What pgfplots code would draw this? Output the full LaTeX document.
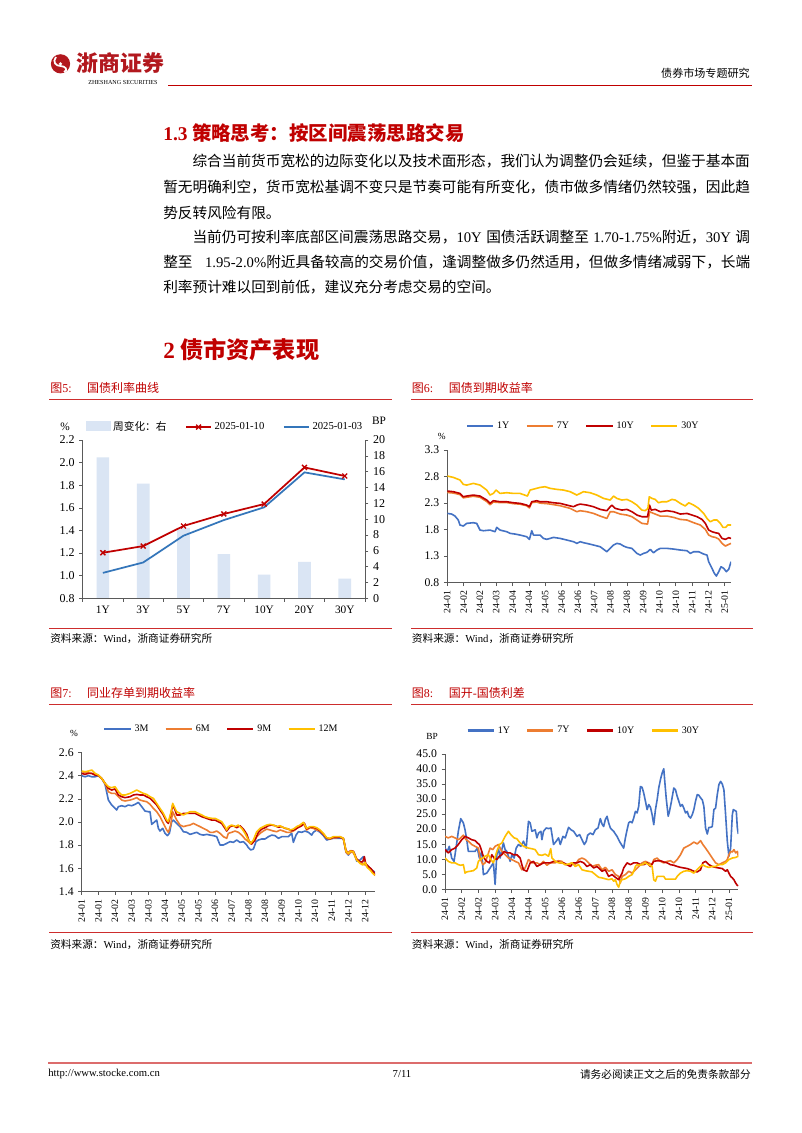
\documentclass[border=0pt]{standalone}
\usepackage{pgfplots}
\pgfplotsset{compat=1.18}
\usepackage{fontspec}
\setmainfont{Liberation Serif}
\newfontfamily\cjk{Noto Sans CJK SC}
\XeTeXlinebreaklocale "zh"
\XeTeXlinebreakskip=0pt plus 1pt
\definecolor{zsred}{RGB}{192,0,0}
\definecolor{rulered}{RGB}{205,45,45}
\definecolor{logored}{RGB}{178,24,30}
\definecolor{c1}{RGB}{68,114,196}
\definecolor{c2}{RGB}{237,125,49}
\definecolor{c3}{RGB}{192,0,0}
\definecolor{c4}{RGB}{255,192,0}
\definecolor{barblue}{RGB}{218,229,244}
\definecolor{lblue}{RGB}{52,118,186}
\definecolor{axgray}{RGB}{90,90,90}
\newcommand\bodyfont{\cjk\fontsize{11}{13}\selectfont}
\pgfplotsset{
  ts/.style={
    scale only axis, axis x line=bottom, axis y line=left,
    axis line style={-, axgray}, tick style={axgray, line width=0.5pt},
    tick align=outside, major tick length=2.5pt,
    /pgf/number format/assume math mode=true,
    tick label style={font=\fontsize{8.8}{9}\selectfont},
    xticklabel style={rotate=90, anchor=east, font=\fontsize{7.3}{8}\selectfont},
    yticklabel style={/pgf/number format/.cd, fixed, fixed zerofill, precision=1},
    legend style={draw=none, fill=none, font=\fontsize{7.5}{8}\selectfont, inner sep=0pt,
      legend columns=-1, /tikz/every even column/.append style={column sep=10pt}},
    legend image code/.code={\draw[#1, line width=2pt] (0cm,0cm) -- (0.69cm,0cm);},
    every axis plot/.append style={line width=1.2pt, mark=none, line join=round},
  }
}
\begin{document}
\begin{tikzpicture}
\fill[white] (0,0) rectangle (601.5pt,-849.75pt);
\path[use as bounding box] (0,0) rectangle (601.5pt,-849.75pt);
\begin{scope}[x=0.75pt,y=-0.75pt]
% header
\fill[logored] (60.5,63.8) circle (9.6);
\draw[white, line width=1.3pt] (56,57) .. controls (52,62) and (56,66) .. (60.5,66) .. controls (65,66) and (69,70) .. (64,72);
\fill[white] (60.5,63.8) circle (1.8);
\node[anchor=west, inner sep=0, text=logored] at (76.5,63) {\cjk\bfseries\fontsize{16.4}{16}\selectfont 浙商证券};
\node[anchor=west, inner sep=0] at (88,82.7) {\fontsize{4.6}{5}\selectfont ZHESHANG SECURITIES};
\draw[zsred, line width=1.1pt] (168,85.7) -- (752,85.7);
\node[anchor=east, inner sep=0] at (750,73) {\cjk\fontsize{8.3}{9}\selectfont 债券市场专题研究};
% section 1.3
\node[anchor=west, inner sep=0, text=zsred] at (163,133) {\cjk\bfseries\fontsize{14.6}{16}\selectfont {\rmfamily\bfseries 1.3} 策略思考：按区间震荡思路交易};
\node[anchor=west, inner sep=0] at (192.3,161) {\bodyfont\makebox[418.2pt][s]{综合当前货币宽松的边际变化以及技术面形态，我们认为调整仍会延续，但鉴于基本面}};
\node[anchor=west, inner sep=0] at (163,187) {\bodyfont\makebox[440.25pt][s]{暂无明确利空，货币宽松基调不变只是节奏可能有所变化，债市做多情绪仍然较强，因此趋}};
\node[anchor=west, inner sep=0] at (163,213) {\bodyfont 势反转风险有限。};
\node[anchor=west, inner sep=0] at (192.3,237) {\bodyfont\makebox[418.2pt][s]{当前仍可按利率底部区间震荡思路交易，{\rmfamily 10Y} 国债活跃调整至 {\rmfamily 1.70-1.75\%}附近，{\rmfamily 30Y} 调}};
\node[anchor=west, inner sep=0] at (163,262) {\bodyfont\makebox[440.25pt][s]{整至 {\rmfamily 1.95-2.0\%}附近具备较高的交易价值，逢调整做多仍然适用，但做多情绪减弱下，长端}};
\node[anchor=west, inner sep=0] at (163,287) {\bodyfont 利率预计难以回到前低，建议充分考虑交易的空间。};
\node[anchor=west, inner sep=0, text=zsred] at (163,350) {\cjk\bfseries\fontsize{17.4}{19}\selectfont {\rmfamily\bfseries 2} 债市资产表现};
% chart titles and rules
\node[anchor=west, inner sep=0, text=zsred] at (50,388) {\cjk\fontsize{9}{10}\selectfont 图{\rmfamily 5:}\hspace{1.3em}国债利率曲线};
\node[anchor=west, inner sep=0, text=zsred] at (411.7,388) {\cjk\fontsize{9}{10}\selectfont 图{\rmfamily 6:}\hspace{1.3em}国债到期收益率};
\node[anchor=west, inner sep=0, text=zsred] at (50,692.7) {\cjk\fontsize{9}{10}\selectfont 图{\rmfamily 7:}\hspace{1.3em}同业存单到期收益率};
\node[anchor=west, inner sep=0, text=zsred] at (411.7,692.7) {\cjk\fontsize{9}{10}\selectfont 图{\rmfamily 8:}\hspace{1.3em}国开{\rmfamily -}国债利差};
\draw[rulered, line width=0.6pt] (49,399.3) -- (392,399.3);
\draw[rulered, line width=0.6pt] (411,399.3) -- (753,399.3);
\draw[rulered, line width=0.6pt] (49,704) -- (392,704);
\draw[rulered, line width=0.6pt] (411,704) -- (753,704);
\draw[rulered, line width=0.6pt] (49,628.3) -- (392,628.3);
\draw[rulered, line width=0.6pt] (411,628.3) -- (753,628.3);
\draw[rulered, line width=0.6pt] (49,932.7) -- (392,932.7);
\draw[rulered, line width=0.6pt] (411,932.7) -- (753,932.7);
\node[anchor=west, inner sep=0] at (50,638.5) {\cjk\fontsize{8}{9}\selectfont 资料来源：{\rmfamily Wind}，浙商证券研究所};
\node[anchor=west, inner sep=0] at (411.7,638.5) {\cjk\fontsize{8}{9}\selectfont 资料来源：{\rmfamily Wind}，浙商证券研究所};
\node[anchor=west, inner sep=0] at (50,945) {\cjk\fontsize{8}{9}\selectfont 资料来源：{\rmfamily Wind}，浙商证券研究所};
\node[anchor=west, inner sep=0] at (411.7,945) {\cjk\fontsize{8}{9}\selectfont 资料来源：{\rmfamily Wind}，浙商证券研究所};
% unit labels
\node[inner sep=0] at (65,427) {\fontsize{8.5}{9}\selectfont \%};
\node[inner sep=0] at (379,421) {\fontsize{8.5}{9}\selectfont BP};
\node[inner sep=0] at (441.7,436) {\fontsize{7}{8}\selectfont \%};
\node[inner sep=0] at (74,733) {\fontsize{7}{8}\selectfont \%};
\node[inner sep=0] at (432,736) {\fontsize{7}{8}\selectfont BP};
% footer
\draw[rulered!70, line width=0.8pt] (48,1063) -- (752,1063);
\node[anchor=west, inner sep=0] at (48,1074) {\fontsize{8}{9}\selectfont http://www.stocke.com.cn};
\node[inner sep=0] at (402,1074) {\fontsize{8}{9}\selectfont 7/11};
\node[anchor=east, inner sep=0] at (751,1074) {\cjk\fontsize{8}{9}\selectfont 请务必阅读正文之后的免责条款部分};
\end{scope}

% ---------- Figure 5 ----------
\begin{axis}[at={(62.03pt,-448.73pt)}, anchor=south west, scale only axis,
  width=211.7pt, height=118.7pt, xmin=-0.5, xmax=6.5, ymin=0, ymax=20,
  axis y line=right, axis x line=bottom, axis line style={-, axgray},
  tick style={axgray, line width=0.5pt}, tick align=outside, major tick length=2.5pt,
  xtick={-0.5,0.5,...,6.5}, xticklabels={},
  ytick={0,2,...,20}, /pgf/number format/assume math mode=true,
  tick label style={font=\fontsize{9}{9}\selectfont},
  ybar, bar width=9.5pt]
\addplot[fill=barblue, draw=none] coordinates {(0,17.8)(1,14.5)(2,8.9)(3,5.6)(4,3.0)(5,4.6)(6,2.5)};
\end{axis}
\begin{axis}[at={(62.03pt,-448.73pt)}, anchor=south west, scale only axis,
  width=211.7pt, height=118.7pt, xmin=-0.5, xmax=6.5, ymin=0.8, ymax=2.2,
  axis y line=left, axis x line=bottom, axis line style={-, axgray},
  tick style={axgray, line width=0.5pt}, tick align=outside, major tick length=2.5pt,
  xtick={0,...,6}, xticklabels={1Y,3Y,5Y,7Y,10Y,20Y,30Y}, xtick style={draw=none},
  ytick={0.8,1.0,...,2.2}, /pgf/number format/assume math mode=true,
  yticklabel style={/pgf/number format/.cd, fixed, fixed zerofill, precision=1},
  tick label style={font=\fontsize{9}{9}\selectfont},
  xticklabel style={font=\fontsize{8.5}{9}\selectfont},
  legend style={at={(0.506,1.082)}, anchor=center, draw=none, fill=none, inner sep=0pt,
    font=\fontsize{8}{9}\selectfont, legend columns=-1,
    /tikz/every even column/.append style={column sep=12pt}},
  legend image code/.code={\draw[mark repeat=2, mark phase=2, #1] plot coordinates {(0cm,0cm) (0.33cm,0cm) (0.66cm,0cm)};}]
\addlegendimage{legend image code/.code={\fill[barblue] (0cm,-0.09cm) rectangle (0.63cm,0.14cm);}}
\addlegendentry{\cjk 周变化：右}
\addplot[zsred, line width=1.3pt, mark=x, mark size=2.6pt, mark options={line width=1pt}] coordinates {(0,1.203)(1,1.262)(2,1.440)(3,1.546)(4,1.634)(5,1.958)(6,1.882)};
\addlegendentry{2025-01-10}
\addplot[lblue, line width=1.3pt, mark=none] coordinates {(0,1.025)(1,1.117)(2,1.354)(3,1.492)(4,1.605)(5,1.914)(6,1.852)};
\addlegendentry{2025-01-03}
\end{axis}

% ---------- Figure 6 ----------
\begin{axis}[ts, at={(335.48pt,-437.03pt)}, anchor=south west,
  width=212.8pt, height=99.5pt, xmin=0, xmax=850, ymin=0.8, ymax=3.3,
  ytick={0.8,1.3,1.8,2.3,2.8,3.3},
  xtick={0,48.9,97.8,146.7,195.6,244.5,293.4,342.3,391.2,440.1,489,537.9,586.8,635.7,684.6,733.5,782.4,831.3},
  xticklabels={24-01,24-02,24-02,24-03,24-04,24-04,24-05,24-06,24-06,24-07,24-08,24-08,24-09,24-10,24-10,24-11,24-12,25-01},
  legend style={at={(0.48,1.181)}, anchor=center}]
\addplot[c1] coordinates {(0,2.106)(13,2.094)(23,2.056)(33,1.981)(38,1.887)(48,1.868)(58,1.918)(78,1.931)(88,1.918)(98,1.792)(108,1.780)(128,1.792)(143,1.761)(148,1.843)(158,1.792)(178,1.761)(188,1.730)(203,1.717)(218,1.698)(238,1.667)(246,1.617)(253,1.780)(258,1.698)(278,1.698)(288,1.635)(298,1.617)(318,1.654)(338,1.635)(358,1.604)(378,1.573)(388,1.541)(398,1.573)(408,1.554)(418,1.541)(438,1.510)(458,1.478)(478,1.384)(488,1.447)(498,1.510)(508,1.541)(518,1.529)(528,1.491)(538,1.466)(553,1.447)(568,1.353)(578,1.321)(588,1.353)(598,1.372)(608,1.428)(618,1.365)(628,1.416)(638,1.447)(658,1.447)(678,1.434)(698,1.416)(718,1.403)(728,1.353)(738,1.384)(753,1.384)(768,1.340)(778,1.321)(783,1.196)(793,1.070)(800,0.976)(806,0.926)(813,1.007)(820,1.101)(828,1.070)(836,1.007)(843,1.051)(850,1.196)};
\addlegendentry{1Y}
\addplot[c2] coordinates {(0,2.500)(18,2.490)(38,2.460)(48,2.400)(58,2.410)(78,2.430)(98,2.410)(118,2.330)(128,2.270)(138,2.320)(158,2.310)(178,2.310)(198,2.290)(218,2.280)(238,2.250)(246,2.210)(253,2.310)(268,2.320)(278,2.300)(298,2.290)(308,2.282)(338,2.251)(368,2.201)(388,2.138)(398,2.157)(418,2.138)(438,2.106)(458,2.056)(478,2.012)(488,2.138)(498,2.138)(518,2.094)(538,2.075)(553,2.044)(568,1.981)(583,1.918)(600,1.905)(606,2.138)(618,2.106)(638,2.056)(658,2.056)(678,2.031)(698,1.993)(718,1.981)(738,1.931)(758,1.887)(773,1.805)(783,1.698)(793,1.667)(803,1.654)(813,1.623)(823,1.541)(833,1.491)(843,1.522)(850,1.541)};
\addlegendentry{7Y}
\addplot[c3] coordinates {(0,2.527)(18,2.515)(38,2.483)(48,2.420)(58,2.433)(78,2.452)(98,2.433)(118,2.358)(128,2.295)(138,2.345)(158,2.326)(178,2.326)(198,2.307)(218,2.295)(238,2.263)(246,2.232)(253,2.326)(268,2.345)(278,2.326)(298,2.326)(318,2.307)(338,2.295)(358,2.263)(378,2.232)(388,2.263)(398,2.282)(418,2.263)(438,2.232)(458,2.182)(478,2.157)(488,2.232)(493,2.263)(503,2.201)(523,2.169)(538,2.182)(553,2.138)(568,2.075)(583,2.044)(600,2.044)(606,2.263)(611,2.169)(623,2.182)(638,2.138)(658,2.157)(678,2.138)(698,2.094)(718,2.106)(733,2.075)(748,2.044)(763,1.993)(773,1.918)(783,1.792)(793,1.761)(803,1.742)(813,1.730)(823,1.635)(833,1.617)(843,1.648)(850,1.635)};
\addlegendentry{10Y}
\addplot[c4] coordinates {(0,2.810)(18,2.785)(38,2.735)(48,2.653)(58,2.640)(78,2.672)(98,2.640)(118,2.546)(128,2.452)(138,2.483)(146,2.546)(158,2.483)(178,2.496)(198,2.483)(218,2.483)(240,2.433)(248,2.546)(278,2.596)(293,2.609)(308,2.578)(328,2.559)(348,2.546)(368,2.515)(388,2.452)(398,2.483)(408,2.515)(428,2.496)(448,2.452)(468,2.389)(488,2.358)(498,2.433)(508,2.389)(523,2.358)(538,2.370)(553,2.326)(568,2.263)(583,2.169)(593,2.157)(601,2.201)(605,2.420)(613,2.389)(623,2.370)(633,2.307)(643,2.326)(658,2.326)(673,2.370)(683,2.358)(698,2.295)(713,2.245)(723,2.307)(738,2.263)(753,2.201)(768,2.106)(778,2.012)(788,1.949)(798,1.981)(808,1.981)(818,1.918)(826,1.843)(834,1.843)(840,1.887)(850,1.887)};
\addlegendentry{30Y}
\end{axis}

% ---------- Figure 7 ----------
\begin{axis}[ts, at={(61.28pt,-668.48pt)}, anchor=south west,
  width=220pt, height=103.95pt, xmin=0, xmax=880, ymin=1.4, ymax=2.6,
  ytick={1.4,1.6,...,2.6}, xtick={0,50,...,850},
  xticklabels={24-01,24-01,24-02,24-03,24-03,24-04,24-05,24-05,24-06,24-07,24-08,24-08,24-09,24-10,24-10,24-11,24-12,24-12},
  legend style={at={(0.477,1.171)}, anchor=center}]
\addplot[c1] coordinates {(0,2.401)(10,2.392)(20,2.401)(30,2.392)(40,2.392)(50,2.401)(60,2.378)(70,2.326)(80,2.190)(90,2.147)(100,2.118)(105,2.104)(110,2.133)(120,2.141)(130,2.133)(140,2.147)(150,2.141)(160,2.153)(170,2.170)(180,2.133)(190,2.095)(200,2.089)(205,2.089)(210,1.980)(217,1.997)(225,2.017)(230,1.945)(235,1.922)(243,1.945)(250,1.902)(257,1.882)(263,1.902)(270,2.003)(275,2.017)(285,1.988)(295,1.960)(305,1.916)(315,1.911)(325,1.893)(335,1.902)(345,1.911)(355,1.893)(365,1.887)(375,1.893)(385,1.887)(395,1.882)(405,1.873)(410,1.836)(415,1.801)(425,1.801)(435,1.815)(445,1.830)(455,1.824)(465,1.844)(475,1.824)(485,1.830)(495,1.801)(500,1.778)(507,1.758)(515,1.766)(523,1.830)(530,1.844)(540,1.853)(550,1.853)(560,1.873)(570,1.887)(580,1.882)(590,1.859)(600,1.873)(610,1.873)(620,1.873)(630,1.902)(635,1.824)(643,1.887)(650,1.916)(660,1.911)(670,1.922)(680,1.911)(690,1.887)(695,1.911)(705,1.931)(715,1.911)(725,1.882)(735,1.844)(745,1.853)(755,1.859)(770,1.859)(785,1.859)(793,1.738)(800,1.714)(807,1.743)(817,1.738)(825,1.662)(835,1.671)(845,1.700)(850,1.642)(860,1.613)(870,1.585)(880,1.565)};
\addlegendentry{3M}
\addplot[c2] coordinates {(0,2.436)(10,2.430)(20,2.425)(30,2.421)(40,2.413)(50,2.407)(60,2.378)(70,2.335)(80,2.262)(90,2.248)(100,2.248)(110,2.219)(120,2.190)(130,2.182)(145,2.190)(155,2.199)(165,2.211)(175,2.190)(185,2.182)(195,2.176)(205,2.153)(215,2.118)(225,2.089)(235,2.046)(245,1.988)(255,1.931)(260,1.911)(267,1.974)(273,2.089)(280,2.046)(285,2.017)(295,1.974)(305,1.960)(315,1.968)(325,1.974)(335,1.988)(345,1.974)(355,1.960)(365,1.945)(375,1.931)(385,1.911)(395,1.911)(405,1.922)(415,1.902)(425,1.873)(435,1.859)(440,1.902)(450,1.911)(460,1.922)(470,1.911)(480,1.887)(490,1.853)(500,1.830)(507,1.810)(515,1.830)(525,1.873)(535,1.902)(545,1.922)(555,1.939)(565,1.931)(575,1.922)(585,1.916)(595,1.931)(605,1.922)(615,1.911)(625,1.911)(635,1.922)(645,1.945)(655,1.960)(665,1.988)(675,1.931)(685,1.951)(695,1.945)(705,1.931)(715,1.922)(725,1.893)(735,1.859)(745,1.853)(755,1.864)(765,1.864)(775,1.873)(785,1.859)(793,1.738)(800,1.720)(807,1.740)(815,1.735)(825,1.670)(835,1.650)(843,1.640)(850,1.630)(860,1.605)(870,1.580)(880,1.536)};
\addlegendentry{6M}
\addplot[c3] coordinates {(0,2.421)(10,2.413)(20,2.421)(30,2.421)(40,2.407)(50,2.401)(60,2.378)(70,2.335)(80,2.291)(90,2.277)(100,2.286)(110,2.234)(120,2.219)(130,2.211)(145,2.219)(155,2.234)(165,2.239)(175,2.234)(185,2.234)(195,2.219)(205,2.205)(215,2.176)(225,2.147)(235,2.104)(245,2.061)(255,2.003)(260,1.988)(267,2.061)(273,2.147)(280,2.104)(285,2.061)(295,2.061)(305,2.075)(315,2.075)(325,2.075)(340,2.075)(350,2.061)(360,2.046)(370,2.037)(380,2.026)(390,2.017)(400,2.017)(410,2.003)(420,1.988)(430,1.945)(435,1.922)(445,1.960)(455,1.968)(465,1.951)(475,1.968)(485,1.939)(495,1.895)(502,1.836)(510,1.810)(520,1.844)(530,1.911)(540,1.939)(550,1.951)(560,1.968)(570,1.974)(580,1.968)(590,1.955)(600,1.960)(610,1.945)(620,1.939)(630,1.925)(640,1.935)(650,1.955)(660,1.968)(668,1.990)(675,1.940)(685,1.955)(695,1.955)(705,1.945)(715,1.925)(725,1.896)(735,1.860)(745,1.855)(755,1.868)(765,1.868)(775,1.868)(785,1.855)(793,1.752)(800,1.732)(807,1.752)(815,1.746)(825,1.680)(835,1.655)(843,1.655)(848,1.700)(852,1.640)(860,1.615)(868,1.595)(875,1.570)(880,1.547)};
\addlegendentry{9M}
\addplot[c4] coordinates {(0,2.441)(10,2.436)(20,2.441)(30,2.450)(40,2.421)(50,2.407)(60,2.378)(70,2.335)(80,2.306)(90,2.297)(100,2.306)(110,2.262)(120,2.234)(130,2.234)(145,2.248)(155,2.262)(165,2.277)(175,2.262)(185,2.248)(195,2.239)(205,2.219)(215,2.205)(225,2.161)(235,2.118)(245,2.075)(255,2.017)(260,2.003)(267,2.075)(273,2.161)(280,2.118)(285,2.089)(295,2.075)(305,2.061)(315,2.075)(325,2.089)(340,2.089)(350,2.075)(360,2.061)(370,2.046)(380,2.037)(390,2.032)(400,2.032)(410,2.017)(420,2.003)(430,1.960)(435,1.931)(440,1.960)(450,1.974)(460,1.960)(470,1.974)(480,1.945)(490,1.902)(500,1.844)(507,1.815)(515,1.844)(525,1.916)(535,1.945)(545,1.960)(555,1.974)(565,1.980)(575,1.974)(585,1.960)(595,1.968)(605,1.951)(615,1.945)(625,1.931)(635,1.939)(645,1.960)(655,1.974)(665,1.997)(675,1.945)(685,1.960)(695,1.960)(705,1.951)(715,1.931)(725,1.902)(735,1.864)(745,1.859)(755,1.873)(765,1.873)(775,1.873)(785,1.859)(793,1.749)(800,1.729)(807,1.749)(815,1.743)(825,1.671)(835,1.642)(843,1.628)(850,1.651)(857,1.605)(865,1.585)(873,1.556)(880,1.541)};
\addlegendentry{12M}
\end{axis}

% ---------- Figure 8 ----------
\begin{axis}[ts, at={(333.75pt,-666.98pt)}, anchor=south west,
  width=220pt, height=101.5pt, xmin=0, xmax=292.7, ymin=0, ymax=45,
  ytick={0,5,...,45},
  xtick={0,16.67,33.33,50,66.67,83.33,100,116.67,133.33,150,166.67,183.33,200,216.67,233.33,250,266.67,283.33},
  xticklabels={24-01,24-02,24-02,24-03,24-04,24-04,24-05,24-06,24-06,24-07,24-08,24-08,24-09,24-10,24-10,24-11,24-12,25-01},
  legend style={at={(0.474,1.172)}, anchor=center}]
\addplot[c1] coordinates {(0,13.7)(2.3,12.6)(4.3,14.3)(6.7,10.4)(9,9.3)(11,13.7)(13.3,19.3)(15.7,23.5)(18.3,22.1)(20,19.8)(21.7,16.5)(23.3,12.6)(26.7,12.6)(30,12.6)(32.3,13.7)(34.3,10.4)(36.7,12.6)(38.3,4.9)(41.7,5.4)(45,7.1)(48.3,8.8)(50,1.6)(51.7,11.5)(53.3,13.7)(55,10.4)(56.7,13.2)(58.3,15.4)(60,13.2)(61.7,12.6)(65,9.3)(66.7,11.5)(69,10.4)(71,13.7)(73.3,14.9)(75.7,14.3)(78.3,16.0)(81,13.7)(83.3,22.6)(85,22.1)(86.7,19.3)(90,19.8)(91.7,17.1)(93.3,18.7)(95.7,19.3)(96.7,16.5)(98.3,19.3)(101,20.4)(103.3,20.2)(105.7,20.4)(108.3,14.9)(111,16.0)(113.3,17.1)(115,14.9)(117.7,17.6)(120,17.1)(123.3,20.6)(125.7,19.8)(128.3,19.3)(131.7,17.6)(134.3,18.2)(136.7,16.5)(139,14.9)(141,16.0)(142.3,18.0)(145,18.7)(147.7,18.2)(150,19.8)(152.7,20.4)(155,23.5)(156.7,21.7)(158.3,20.9)(160,23.2)(161.7,24.3)(163.3,22.1)(165,20.4)(166.7,19.8)(168.3,19.3)(170,18.4)(171.7,17.6)(174,16.0)(176,14.9)(178.3,13.7)(180,17.1)(181.7,19.8)(183.3,22.1)(185,22.6)(186.7,22.1)(188.3,23.7)(190,25.9)(191.7,25.4)(193.3,27.6)(195,34.2)(196.7,33.9)(198.3,32.0)(200,29.3)(201.7,26.5)(203.3,28.2)(205,27.3)(206.7,24.8)(208.3,21.5)(210,26.5)(211.7,29.8)(213.3,33.7)(215,36.5)(216.7,38.7)(218.3,40.1)(219.3,35.9)(220.7,30.4)(222.7,24.3)(224,25.9)(226,29.3)(228.3,33.7)(230,33.1)(231.7,30.9)(233.3,29.3)(235,27.6)(236.7,28.2)(238.3,27.0)(240,25.4)(241.7,25.9)(243.3,24.3)(245,23.7)(246.7,24.8)(248.3,26.5)(250,29.3)(251.7,31.5)(253.3,31.3)(255,30.4)(256.7,29.8)(258.3,27.6)(260,20.4)(261.7,18.4)(263.3,20.6)(265,20.6)(266.7,20.9)(268.3,26.5)(270,27.0)(271.7,31.5)(273.3,34.8)(275,35.9)(276.7,35.0)(278.3,33.1)(280,24.8)(281.7,16.0)(283.3,11.0)(285,13.7)(286.7,24.8)(287.7,26.5)(289.3,26.2)(290.7,25.9)(291.7,20.4)(292.7,18.4)};
\addlegendentry{1Y}
\addplot[c2] coordinates {(0,17.6)(3.3,17.1)(6.7,17.6)(10,17.1)(13.3,16.5)(15.7,17.1)(18.3,18.0)(21,16.5)(23.3,16.0)(26.7,14.9)(30,14.3)(33.3,13.7)(35,10.4)(37.7,8.2)(40,8.8)(41.7,10.4)(45,13.7)(47.7,13.2)(50,14.3)(53.3,14.9)(56.7,12.6)(60,11.5)(63.3,10.4)(66.7,9.9)(70,9.3)(73.3,8.8)(76.7,6.5)(80,7.1)(83.3,9.9)(86.7,8.8)(91.7,8.8)(95,8.2)(98.3,9.3)(101.7,8.0)(105,8.8)(110,8.8)(113.3,9.5)(116.7,9.3)(120,8.2)(123.3,8.2)(126.7,8.8)(130,8.2)(133.3,9.9)(136.7,10.4)(140,9.9)(143.3,8.8)(146.7,7.6)(150,8.0)(153.3,8.2)(156.7,6.5)(160,7.3)(163.3,6.0)(166.7,6.5)(170,4.9)(173.3,4.3)(175,2.1)(176.7,4.3)(180,4.9)(183.3,6.0)(186.7,5.4)(190,6.5)(193.3,7.6)(196.7,8.8)(200,9.3)(203.3,8.8)(206.7,8.2)(208.3,9.9)(211.7,10.4)(215,9.3)(218.3,8.8)(221.7,9.3)(225,9.5)(228.3,8.8)(231.7,9.9)(235,11.5)(238.3,13.7)(241.7,14.3)(245,14.9)(248.3,15.7)(251.7,15.1)(255,16.2)(257.3,14.9)(260,13.7)(263.3,12.1)(266.7,10.4)(270,8.8)(273.3,8.2)(276.7,8.8)(280,9.3)(281.7,9.9)(283.3,11.5)(285,12.6)(286.7,12.4)(288.3,13.2)(290,12.1)(291.7,12.6)(292.7,11.0)};
\addlegendentry{7Y}
\addplot[c3] coordinates {(0,13.2)(3.3,12.1)(6.7,13.2)(10,13.7)(13.3,14.9)(16.7,16.5)(20,17.6)(23.3,17.1)(26.7,16.5)(30,16.2)(32.3,15.4)(34.3,14.9)(35.7,13.7)(37.7,11.5)(40,9.9)(41.7,9.3)(44.3,8.8)(46.7,11.5)(49,10.4)(51.7,9.9)(54.3,11.0)(56.7,11.5)(59,12.6)(61.7,12.1)(65,12.1)(68.3,11.5)(71.7,11.5)(75,10.4)(76.7,8.2)(78.3,6.5)(81.7,6.0)(85,8.8)(88.3,9.3)(91.7,7.6)(95,8.2)(98.3,8.8)(101.7,8.8)(105,8.8)(108.3,9.3)(111.7,9.3)(115,8.8)(118.3,8.8)(121.7,8.2)(125,7.6)(128.3,8.8)(131.7,8.8)(135,9.3)(138.3,8.8)(141.7,7.6)(145,8.2)(148.3,7.1)(151.7,7.6)(153.3,7.1)(156.7,6.0)(160,6.5)(163.3,4.3)(166.7,4.9)(170,4.0)(173.3,3.2)(176.7,5.4)(178.3,7.1)(181.7,8.8)(185,8.2)(188.3,8.8)(191.7,8.8)(195,8.2)(198.3,8.2)(201.7,8.8)(205,7.6)(208.3,9.3)(211.7,9.5)(215,9.5)(218.3,9.1)(221.7,8.8)(225,8.2)(228.3,8.0)(231.7,7.6)(235,7.3)(238.3,7.1)(241.7,6.9)(245,6.5)(248.3,6.0)(251.7,5.8)(255,6.5)(257.3,8.8)(260,9.3)(263.3,8.2)(266.7,7.6)(270,7.3)(273.3,7.1)(276.7,6.9)(280,6.0)(281.7,6.5)(283.3,5.4)(285,4.3)(286.7,3.8)(288.3,3.2)(290,2.1)(291.7,1.3)(292.7,1.2)};
\addlegendentry{10Y}
\addplot[c4] coordinates {(0,10.4)(3.3,9.3)(6.7,8.8)(10,8.8)(13.3,8.2)(15.7,8.0)(18.3,8.2)(20,5.4)(21.7,5.8)(25,6.0)(28.3,6.2)(31.7,7.1)(33.3,9.3)(35,9.9)(37.7,10.4)(40,11.0)(43.3,11.5)(45.7,9.9)(48.3,8.8)(51.7,12.6)(54.3,14.9)(56.7,15.4)(60,17.6)(63.3,19.3)(65.7,18.2)(69,17.1)(71.7,16.8)(75,15.4)(78.3,14.3)(81,14.0)(83.3,13.7)(86.7,13.5)(90,13.2)(93.3,11.5)(96.7,11.3)(100,11.7)(103.3,11.0)(105.5,13.5)(106.7,10.4)(110,9.3)(113.3,8.8)(116.7,8.8)(120,8.2)(123.3,8.4)(126.7,8.8)(130,7.6)(133.3,8.2)(136.7,6.5)(140,6.2)(143.3,6.0)(146.7,5.8)(150,4.9)(153.3,4.0)(156.7,3.8)(160,3.5)(163.3,3.2)(166.7,3.5)(168.3,2.7)(170,3.2)(171.7,1.6)(173.3,0.7)(175,2.7)(176.7,3.2)(180,3.5)(183.3,4.3)(186.7,4.9)(188.3,6.0)(190,7.6)(191.7,8.2)(193.3,8.0)(196.7,8.2)(200,8.8)(203.3,8.2)(206.7,7.6)(208.3,3.2)(210,2.7)(211.7,4.3)(215,4.3)(218.3,4.3)(220,3.4)(223.3,3.4)(226.7,3.4)(230,3.4)(231.7,4.3)(235,5.4)(238.3,6.0)(241.7,6.2)(245,6.0)(248.3,5.4)(250,6.0)(253.3,7.1)(256.7,8.2)(260,7.6)(263.3,7.3)(266.7,7.6)(270,7.6)(273.3,8.2)(276.7,8.2)(280,8.8)(283.3,9.9)(286.7,10.4)(290,10.6)(292.7,11.0)};
\addlegendentry{30Y}
\end{axis}
\end{tikzpicture}
\end{document}
